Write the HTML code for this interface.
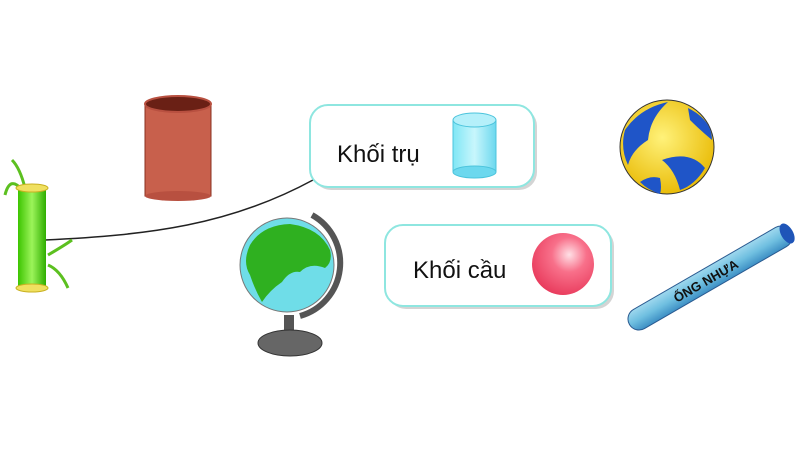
<!DOCTYPE html>
<html><head><meta charset="utf-8"><style>
html,body{margin:0;padding:0;background:#fff;width:800px;height:450px;overflow:hidden}
svg{display:block}
text{font-family:"Liberation Sans",sans-serif}
</style></head><body>
<svg width="800" height="450" viewBox="0 0 800 450" xmlns="http://www.w3.org/2000/svg">
<defs>
<linearGradient id="cyl" x1="0" x2="1"><stop offset="0" stop-color="#7fe6f5"/><stop offset=".5" stop-color="#c8f6fc"/><stop offset="1" stop-color="#6cd8ee"/></linearGradient>
<radialGradient id="red" cx=".6" cy=".35" r=".7"><stop offset="0" stop-color="#ffe0e6"/><stop offset=".4" stop-color="#f8708a"/><stop offset="1" stop-color="#e8385a"/></radialGradient>
<linearGradient id="bam" x1="0" x2="1"><stop offset="0" stop-color="#3cc400"/><stop offset=".5" stop-color="#9cf45a"/><stop offset="1" stop-color="#2fae00"/></linearGradient>
<linearGradient id="tube" x1="0" y1="0" x2="0" y2="1"><stop offset="0" stop-color="#9fd8ee"/><stop offset=".5" stop-color="#6fbfe0"/><stop offset="1" stop-color="#3d8fc4"/></linearGradient>
<radialGradient id="ball" cx=".45" cy=".4" r=".65"><stop offset="0" stop-color="#fff27a"/><stop offset="1" stop-color="#e8b800"/></radialGradient>
</defs>
<path d="M45,240 C150,235 230,225 313,180" fill="none" stroke="#222" stroke-width="1.5"/>
<rect x="313" y="108" width="224" height="82" rx="18" fill="#aaa" opacity=".5"/>
<rect x="310" y="105" width="224" height="82" rx="18" fill="#fff" stroke="#8ee6e0" stroke-width="2"/>
<text x="337" y="162" font-size="24" fill="#111">Khối trụ</text>
<rect x="453" y="120" width="43" height="52" fill="url(#cyl)" stroke="#4cc4dc"/>
<ellipse cx="474.5" cy="172" rx="21.5" ry="6" fill="#6cd8ee" stroke="#4cc4dc"/>
<ellipse cx="474.5" cy="120" rx="21.5" ry="7" fill="#b5f0fa" stroke="#4cc4dc"/>
<rect x="388" y="228" width="226" height="81" rx="18" fill="#aaa" opacity=".5"/>
<rect x="385" y="225" width="226" height="81" rx="18" fill="#fff" stroke="#8ee6e0" stroke-width="2"/>
<text x="413" y="278" font-size="24" fill="#111">Khối cầu</text>
<circle cx="563" cy="264" r="31" fill="url(#red)"/>
<path d="M22,190 Q10,175 5,195 M25,188 Q20,168 12,160 M48,255 Q65,245 72,240 M48,265 Q60,270 68,288" stroke="#5cc020" stroke-width="3" fill="none"/>
<rect x="18" y="188" width="28" height="100" fill="url(#bam)"/>
<ellipse cx="32" cy="188" rx="16" ry="4" fill="#f0e060" stroke="#c8b020"/>
<ellipse cx="32" cy="288" rx="16" ry="4" fill="#f0e060" stroke="#c8b020"/>
<rect x="145" y="104" width="66" height="92" fill="#c8604c" stroke="#8a3020"/>
<ellipse cx="178" cy="196" rx="33" ry="5" fill="#b85040"/>
<ellipse cx="178" cy="104" rx="33" ry="8" fill="#6a2015" stroke="#b85040" stroke-width="2"/>
<path d="M312,215 A55,55 0 0 1 300,316" stroke="#555" stroke-width="6" fill="none"/>
<rect x="284" y="315" width="10" height="20" fill="#555"/>
<ellipse cx="290" cy="343" rx="32" ry="13" fill="#666" stroke="#333"/>
<circle cx="287" cy="265" r="47" fill="#6fdde8" stroke="#777"/>
<path d="M250,245 Q262,225 290,224 Q320,228 330,250 Q333,262 325,268 Q310,262 300,272 Q290,270 282,282 Q270,290 262,302 Q255,290 250,275 Q242,262 250,245 Z" fill="#2fb020"/>
<circle cx="667" cy="147" r="47" fill="url(#ball)" stroke="#333"/>
<path d="M625,130 Q640,108 668,102 Q650,118 648,140 Q632,150 628,165 Q620,148 625,130 Z M688,108 Q712,120 712,140 Q700,130 690,120 Z M662,160 Q690,150 705,168 Q695,185 680,190 Q675,170 662,160 Z M640,182 Q650,175 660,178 Q662,188 660,194 Q648,190 640,182 Z" fill="#1f55c8"/>
<g transform="translate(710,278) rotate(-30)">
<rect x="-93" y="-11" width="186" height="22" rx="11" fill="url(#tube)" stroke="#2a5a90"/>
<ellipse cx="89" cy="0" rx="6" ry="11" fill="#1f55b8"/>
<text x="-5" y="5" font-size="13" font-weight="bold" text-anchor="middle" fill="#111">ỐNG NHỰA</text>
</g>
</svg>
</body></html>
